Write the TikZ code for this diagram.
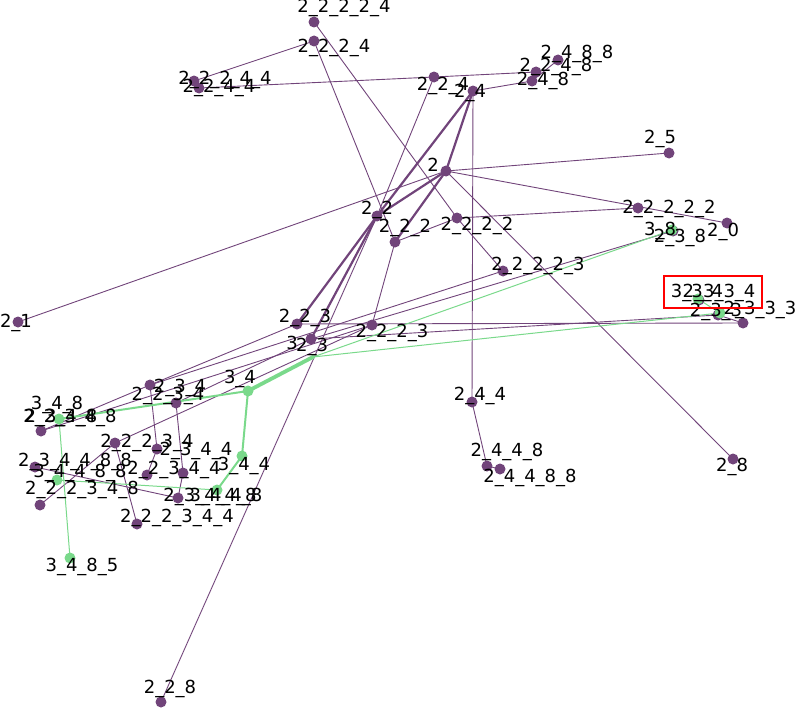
\documentclass[tikz,border=0pt]{standalone}
\usepackage{fontspec}
\setmainfont{DejaVu Sans}
\definecolor{purp}{HTML}{71447A}
\definecolor{grn}{HTML}{7AD98B}
\tikzset{
  pn/.style={circle,fill=purp,inner sep=0pt,minimum size=11pt},
  gn/.style={circle,fill=grn,inner sep=0pt,minimum size=11pt},
  lbl/.style={inner sep=0pt,font=\fontsize{18}{18}\selectfont},
  pe/.style={draw=purp,line width=0.9pt},
  pt/.style={draw=purp,line width=2.2pt},
  ge/.style={draw=grn,line width=1pt},
  gt/.style={draw=grn,line width=3.8pt},
}
\begin{document}
\begin{tikzpicture}[x=1pt,y=-1pt]
\useasboundingbox (0,0) rectangle (800,709);
% coordinates of nodes
\coordinate (c22224) at (314,22);
\coordinate (c2224) at (314,41);
\coordinate (c22244) at (194,81);
\coordinate (c2244) at (199,88);
\coordinate (c224) at (434,77);
\coordinate (c24) at (473,91);
\coordinate (c248) at (532,81);
\coordinate (c2248) at (536,72);
\coordinate (c2488) at (558,60);
\coordinate (c2) at (446,171);
\coordinate (c25) at (669,153);
\coordinate (c22222) at (638,208);
\coordinate (c20) at (727,223);
\coordinate (c38) at (672,230);
\coordinate (c238) at (673,231);
\coordinate (c2222) at (457,218);
\coordinate (c22) at (377,216);
\coordinate (c222) at (395,242);
\coordinate (c22223) at (503,271);
\coordinate (c223) at (297,324);
\coordinate (c23) at (311,339);
\coordinate (c3) at (313,357);
\coordinate (c2223) at (372,325);
\coordinate (c21) at (18,322);
\coordinate (c334) at (698,299);
\coordinate (c2334) at (699,300);
\coordinate (c33) at (720,313);
\coordinate (c233) at (718,315);
\coordinate (c2333) at (743,323);
\coordinate (c244) at (472,402);
\coordinate (c2448) at (487,466);
\coordinate (c24488) at (500,469);
\coordinate (c28) at (733,459);
\coordinate (c228) at (161,702);
\coordinate (c3485) at (70,558);
\coordinate (c34) at (248,391);
\coordinate (c2234) at (150,385);
\coordinate (c234) at (176,403);
\coordinate (c348) at (59,419);
\coordinate (c22348) at (41,431);
\coordinate (c22234) at (115,443);
\coordinate (cA) at (157,449);
\coordinate (c234488) at (35,467);
\coordinate (c34488) at (57,480);
\coordinate (c222348) at (40,505);
\coordinate (c22344) at (147,475);
\coordinate (c2344) at (183,473);
\coordinate (c23448) at (178,498);
\coordinate (c222344) at (137,524);
\coordinate (c344) at (242,456);
\coordinate (c3448) at (217,490);
% purple edges
\draw[pe] (c22224) -- (c2222);
\draw[pe] (c2224) -- (c222);
\draw[pe] (c22244) -- (c2224);
\draw[pe] (c2244) -- (c224);
\draw[pe] (c224) -- (c2248);
\draw[pe] (c224) -- (c22);
\draw[pe] (c24) -- (c248);
\draw[pe] (c248) -- (c2488);
\draw[pe] (c24) -- (c244);
\draw[pe] (c244) -- (c2448);
\draw[pe] (c2448) -- (c24488);
\draw[pe] (c2) -- (c25);
\draw[pe] (c2) -- (c20);
\draw[pe] (c2) -- (c21);
\draw[pe] (c2) -- (c28);
\draw[pt] (c2) -- (c22);
\draw[pt] (c2) -- (c24);
\draw[pt] (c24) -- (c22);
\draw[pt] (c2) -- (c222);
\draw[pe] (c2222) -- (c22222);
\draw[pe] (c222) -- (c2222);
\draw[pe] (c2222) -- (c22223);
\draw[pe] (c222) -- (c2223);
\draw[pt] (c22) -- (c223);
\draw[pt] (c22) -- (c23);
\draw[pe] (c22) -- (c228);
\draw[pe] (c23) -- (c238);
\draw[pe] (c23) -- (c233);
\draw[pe] (c223) -- (c2333);
\draw[pe] (c233) -- (c2333);
\draw[pe] (c223) -- (c2234);
\draw[pe] (c23) -- (c234);
\draw[pe] (c2223) -- (c22234);
\draw[pe] (c22223) -- (c2234);
\draw[pe] (c2234) -- (cA);
\draw[pe] (cA) -- (c22344);
\draw[pe] (c234) -- (c2344);
\draw[pe] (c2344) -- (c23448);
\draw[pe] (c23448) -- (c234488);
\draw[pe] (c22234) -- (c222344);
\draw[pe] (c22234) -- (c222348);
\draw[pe] (c22348) -- (c2234);
\draw[pe] (c22348) -- (c2223);
% green edges
\draw[gt] (c3) -- (c34);
\draw[ge] (c3) -- (c38);
\draw[ge] (c3) -- (c33);
\draw[ge] (c33) -- (c334);
\draw[ge,line width=2pt] (c34) -- (c348);
\draw[ge] (c348) -- (c3485);
\draw[ge,line width=2pt] (c34) -- (c344);
\draw[ge,line width=2pt] (c344) -- (c3448);
\draw[ge] (c3448) -- (c34488);
% nodes
\foreach \c in {c22224,c2224,c22244,c2244,c224,c24,c248,c2248,c2488,c2,c25,c22222,c20,c238,c2222,c22,c222,c22223,c223,c23,c2223,c21,c2334,c233,c2333,c244,c2448,c24488,c28,c228,c2234,c234,c22348,c22234,cA,c234488,c222348,c22344,c2344,c23448,c222344}
  \node[pn] (n-\c) at (\c) {};
\foreach \c in {c38,c334,c33,c3485,c34,c348,c34488,c344,c3448}
  \node[gn] (n-\c) at (\c) {};
\node[gn,minimum size=4pt] (n-c3) at (c3) {};
% labels
\node[lbl] (l1) at (344,8) {2\_2\_2\_2\_4};
\node[lbl] (l2) at (334,48) {2\_2\_2\_4};
\node[lbl] (l3) at (225,80) {2\_2\_2\_4\_4};
\node[lbl] (l4) at (219,88) {2\_2\_4\_4};
\node[lbl] (l5) at (443,86) {2\_2\_4};
\node[lbl] (l6) at (470,93) {2\_4};
\node[lbl] (l7) at (543,81) {2\_4\_8};
\node[lbl] (l8) at (556,67) {2\_2\_4\_8};
\node[lbl] (l9) at (577,54) {2\_4\_8\_8};
\node[lbl] (l10) at (433,165) {2};
\node[lbl] (l11) at (660,139) {2\_5};
\node[lbl] (l12) at (669,209) {2\_2\_2\_2\_2};
\node[lbl] (l13) at (723,232) {2\_0};
\node[lbl] (l14) at (660,231) {3\_8};
\node[lbl] (l15) at (680,238) {2\_3\_8};
\node[lbl] (l16) at (477,226) {2\_2\_2\_2};
\node[lbl] (l17) at (377,210) {2\_2};
\node[lbl] (l18) at (405,228) {2\_2\_2};
\node[lbl] (l19) at (538,266) {2\_2\_2\_2\_3};
\node[lbl] (l20) at (305,318) {2\_2\_3};
\node[lbl] (l21) at (312,347) {2\_3};
\node[lbl] (l22) at (292,343) {3};
\node[lbl] (l23) at (392,333) {2\_2\_2\_3};
\node[lbl] (l24) at (16,323) {2\_1};
\node[lbl] (l25) at (697,293) {3\_3\_4};
\node[lbl] (l26) at (719,293) {2\_3\_3\_4};
\node[lbl] (l27) at (716,312) {2\_3\_3};
\node[lbl] (l28) at (760,310) {2\_3\_3\_3};
\node[lbl] (l30) at (480,396) {2\_4\_4};
\node[lbl] (l31) at (507,452) {2\_4\_4\_8};
\node[lbl] (l32) at (530,478) {2\_4\_4\_8\_8};
\node[lbl] (l33) at (732,467) {2\_8};
\node[lbl] (l34) at (170,689) {2\_2\_8};
\node[lbl] (l35) at (82,567) {3\_4\_8\_5};
\node[lbl] (l36) at (240,379) {3\_4};
\node[lbl] (l37) at (168,396) {2\_2\_3\_4};
\node[lbl] (l38) at (180,388) {2\_3\_4};
\node[lbl] (l39) at (57,405) {3\_4\_8};
\node[lbl] (l40) at (70,418) {2\_2\_3\_4\_8};
\node[lbl] (l40b) at (61,418) {2\_3\_4\_8};
\node[lbl] (l41) at (147,443) {2\_2\_2\_3\_4};
\node[lbl] (l42) at (196,451) {2\_3\_4\_4};
\node[lbl] (l43) at (75,462) {2\_3\_4\_4\_8\_8};
\node[lbl] (l44) at (80,473) {3\_4\_4\_8\_8};
\node[lbl] (l45) at (174,470) {2\_2\_3\_4\_4};
\node[lbl] (l46) at (244,466) {3\_4\_4};
\node[lbl] (l47) at (82,490) {2\_2\_2\_3\_4\_8};
\node[lbl] (l48) at (210,497) {2\_3\_4\_4\_8};
\node[lbl] (l49) at (226,497) {3\_4\_4\_8};
\node[lbl] (l50) at (177,518) {2\_2\_2\_3\_4\_4};
% red box
\draw[red,line width=1.5pt] (664,276) rectangle (762,308);
\end{tikzpicture}
\end{document}
